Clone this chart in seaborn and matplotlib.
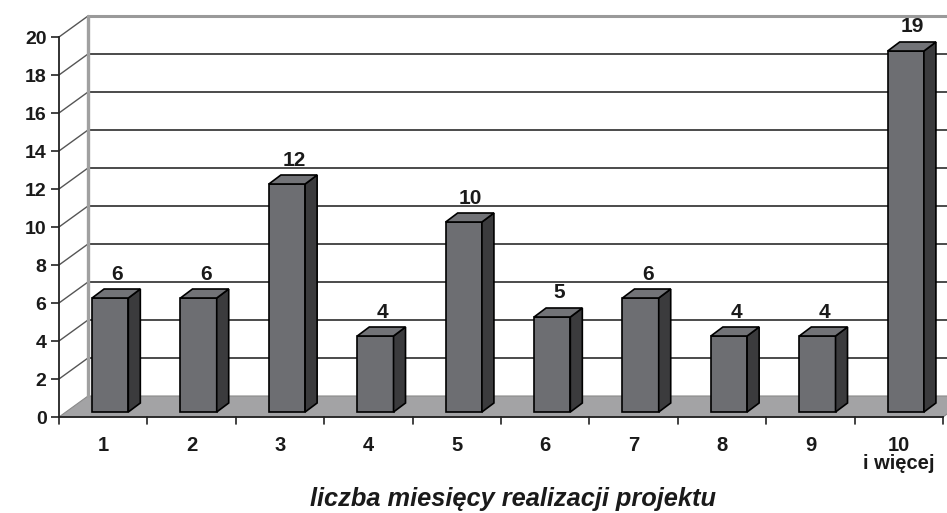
import matplotlib
matplotlib.use("Agg")
import matplotlib.pyplot as plt
import matplotlib.patches as mpatches
import pandas as pd
import seaborn as sns

categories = ["1", "2", "3", "4", "5", "6", "7", "8", "9", "10\ni więcej"]
values = [6, 6, 12, 4, 10, 5, 6, 4, 4, 19]
y_ticks = [0, 2, 4, 6, 8, 10, 12, 14, 16, 18, 20]
x_title = "liczba miesięcy realizacji projektu"

sns.set_theme(style="white")
plt.rcParams["font.family"] = ["Liberation Sans", "DejaVu Sans"]

W, H, DPI = 947, 513, 100
fig = plt.figure(figsize=(W / DPI, H / DPI), dpi=DPI)
ax = fig.add_axes([59 / W, (H - 417) / H, 884 / W, 380 / H])

df = pd.DataFrame({"cat": categories, "val": values})
sns.barplot(data=df, x="cat", y="val", order=categories, width=0.41,
            color="#6d6e72", saturation=1, edgecolor="black", linewidth=1.2,
            ax=ax, zorder=5)

ax.set_xlim(-0.5, len(categories) - 0.5)
ax.set_ylim(0, 20)
fig.canvas.draw()

to_disp = ax.transData.transform
to_data = ax.transData.inverted().transform


def shift(x, y, dx, dy):
    px = to_disp((x, y))
    return tuple(to_data((px[0] + dx, px[1] + dy)))


WALL_DX, WALL_DY = 29, 21        # depth of the floor, in pixels
FRONT_DX, FRONT_DY = 7, 5        # bar front face depth
BAR_DX, BAR_DY = 12, 9           # bar thickness in depth

x0, x1 = -0.5, len(categories) - 0.5

# floor
floor = [(x0, 0), (x1, 0), shift(x1, 0, WALL_DX, WALL_DY), shift(x0, 0, WALL_DX, WALL_DY)]
ax.add_patch(mpatches.Polygon(floor, closed=True, facecolor="#a3a3a5",
                              edgecolor="#8a8a8a", lw=0.8, clip_on=False, zorder=1))

# back wall gridlines and left wall diagonals
for v in y_ticks:
    bx0, by0 = shift(x0, v, WALL_DX, WALL_DY)
    bx1, by1 = shift(x1 + 0.2, v, WALL_DX, WALL_DY)
    if v == 20:
        ax.plot([bx0, bx1], [by0, by1], color="#9a9a9a", lw=2.2,
                clip_on=False, zorder=2, solid_capstyle="butt")
    elif v > 0:
        ax.plot([bx0, bx1], [by0, by1], color="#1a1a1a", lw=1.1,
                clip_on=False, zorder=2)
    if v > 0:
        ax.plot([x0, bx0], [v, by0], color="#555555", lw=1.0,
                clip_on=False, zorder=2)

# back wall left border
tx, ty = shift(x0, 20, WALL_DX, WALL_DY)
bx, by = shift(x0, 0, WALL_DX, WALL_DY)
ax.plot([bx, tx], [by, ty], color="#a0a0a0", lw=2.4, clip_on=False, zorder=2)

# turn flat bars into boxes
bars = [p for p in ax.patches if isinstance(p, mpatches.Rectangle)]
for patch, val in zip(bars, values):
    x = patch.get_x()
    w = patch.get_width()
    fx, fy = shift(x, 0, FRONT_DX, FRONT_DY)
    fx2, _ = shift(x + w, 0, FRONT_DX, FRONT_DY)
    w_s = fx2 - fx
    patch.set_xy((fx, fy))
    patch.set_width(w_s)
    patch.set_height(val)
    top = fy + val
    br = shift(fx + w_s, top, BAR_DX, BAR_DY)
    bb = shift(fx + w_s, fy, BAR_DX, BAR_DY)
    bl = shift(fx, top, BAR_DX, BAR_DY)
    side = [(fx + w_s, fy), (fx + w_s, top), br, bb]
    lid = [(fx, top), (fx + w_s, top), br, bl]
    ax.add_patch(mpatches.Polygon(side, closed=True, facecolor="#3b3b3d",
                                  edgecolor="black", lw=1.2, clip_on=False, zorder=5))
    ax.add_patch(mpatches.Polygon(lid, closed=True, facecolor="#727377",
                                  edgecolor="black", lw=1.2, clip_on=False, zorder=5))

# value labels
for i, val in enumerate(values):
    ax.annotate(str(val), xy=(i, val), xytext=(14, 29), textcoords="offset pixels",
                ha="center", va="center", fontsize=15, fontweight="bold",
                color="#1a1a1a", annotation_clip=False, zorder=6)

# axes styling
for s in ["top", "right"]:
    ax.spines[s].set_visible(False)
ax.spines["left"].set_color("#222222")
ax.spines["bottom"].set_color("#222222")
ax.spines["left"].set_linewidth(1.3)
ax.spines["bottom"].set_linewidth(1.3)
ax.spines["bottom"].set_zorder(3)
ax.set_yticks(y_ticks)
ax.set_xticks(range(len(categories)))
ax.tick_params(axis="x", length=0, pad=14, labelsize=14.5, labelcolor="#1a1a1a")
ax.tick_params(axis="y", length=6, width=1.2, color="#222222", left=True, pad=3,
               labelsize=14, labelcolor="#1a1a1a")
ax.set_yticklabels([str(v) for v in y_ticks], fontweight="bold")
ax.set_xticklabels(categories, fontweight="bold", linespacing=0.88)
for k in range(len(categories) + 1):
    ax.plot([k - 0.5, k - 0.5], [0, shift(0, 0, 0, -7)[1]], color="#222222",
            lw=1.2, clip_on=False, zorder=3)
for lbl in ax.get_xticklabels():
    lbl.set_verticalalignment("top")
ax.set_xlabel("")
ax.set_ylabel("")
fig.text(513 / W, 1 - 499 / H, x_title, ha="center", va="center",
         fontsize=18.3, fontweight="bold", fontstyle="italic", color="#1a1a1a")

fig.savefig("out.png", dpi=DPI)
